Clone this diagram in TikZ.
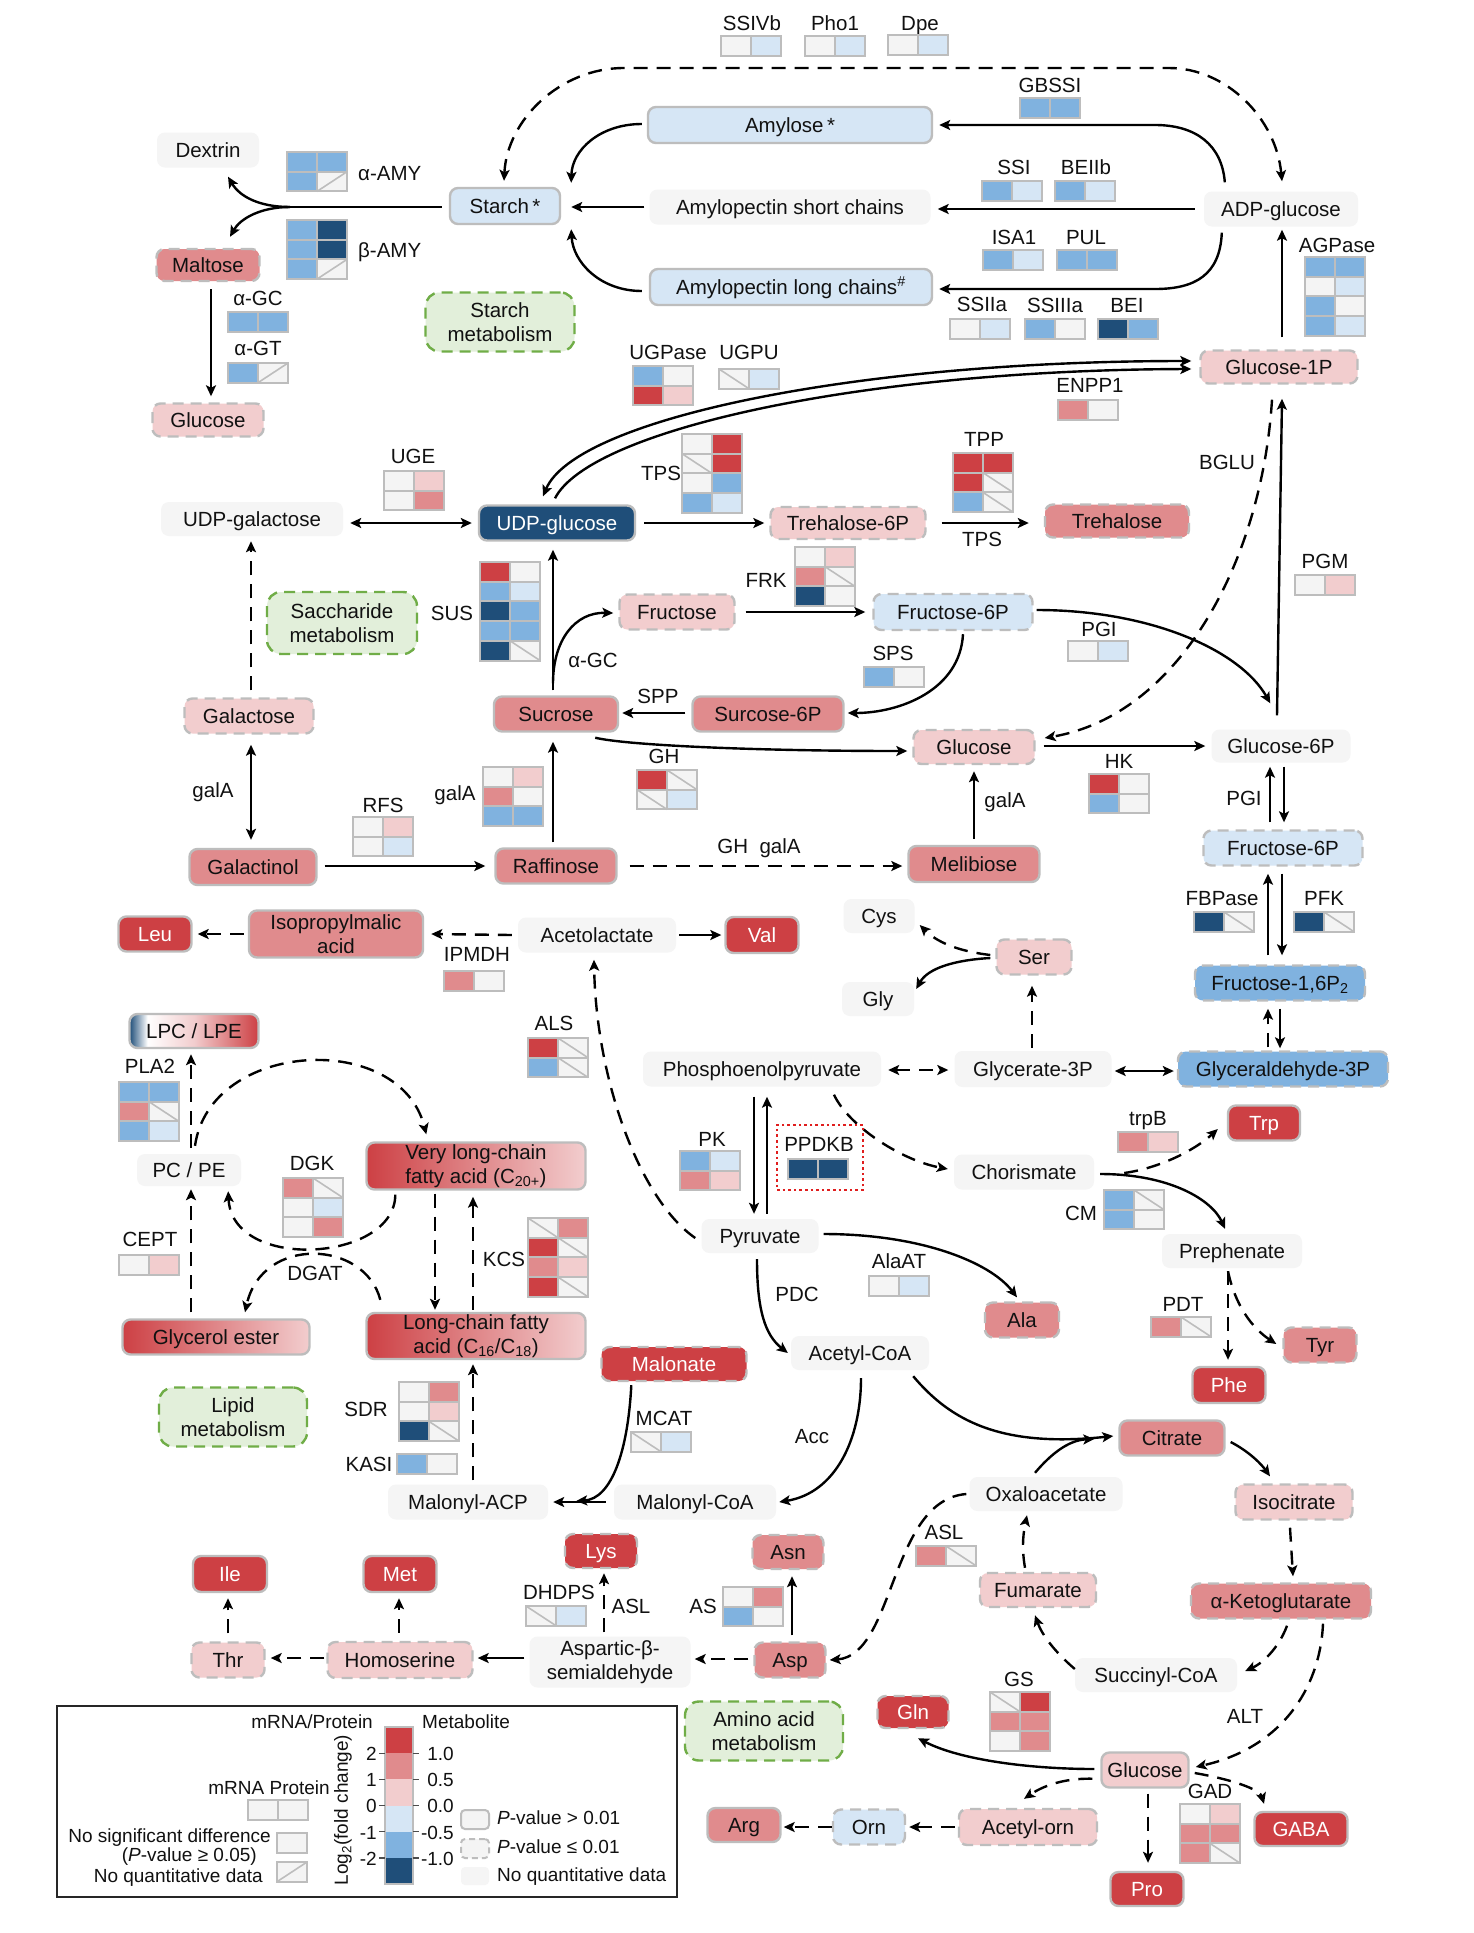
\documentclass[tikz,border=0pt]{standalone}
\usepackage{fontspec}
\setmainfont{Liberation Sans}
\usetikzlibrary{arrows.meta,calc}
\definecolor{cR}{HTML}{CD4044}
\definecolor{cM}{HTML}{E08B8D}
\definecolor{cP}{HTML}{F2CDCE}
\definecolor{cL}{HTML}{D6E6F5}
\definecolor{cB}{HTML}{80B2DF}
\definecolor{cD}{HTML}{1F4E79}
\definecolor{cW}{HTML}{F4F4F4}
\definecolor{cG}{HTML}{BDBDBD}
\definecolor{nodeg}{HTML}{F5F5F5}
\definecolor{grnF}{HTML}{E2EFDA}
\definecolor{grnD}{HTML}{70AD47}
\definecolor{txt}{HTML}{111111}
\definecolor{pdkred}{HTML}{E01E1E}
\pgfdeclarehorizontalshading{lpcsh}{100bp}{color(0bp)=(cD); color(25bp)=(cD); color(32bp)=(white); color(50bp)=(cP); color(75bp)=(cR); color(100bp)=(cR)}
\newcommand\nf{\fontsize{20.5pt}{23.5pt}\selectfont}
\newcommand\lf{\fontsize{19pt}{22pt}\selectfont}
\def\codeN{N}
\def\coden{n}
\newcommand\hcell[3]{%
  \edef\hcode{#3}%
  \pgfmathsetmacro\hyb{#2+19.7}%
  \ifx\hcode\codeN
    \draw[fill=cW, draw=cG, line width=2pt] (#1,#2) rectangle ++(30,19.7);
    \draw[cG, line width=1.6pt] (#1,#2) -- ++(30,19.7);
  \else\ifx\hcode\coden
    \draw[fill=cW, draw=cG, line width=2pt] (#1,#2) rectangle ++(30,19.7);
    \draw[cG, line width=1.6pt] (#1,\hyb) -- ++(30,-19.7);
  \else
    \edef\hcol{c#3}%
    \draw[fill=\hcol, draw=cG, line width=2pt] (#1,#2) rectangle ++(30,19.7);
  \fi\fi}
\newcommand\hm[3]{%
  \foreach \ca/\cb [count=\ri from 0] in {#3}{%
    \pgfmathsetmacro\hyy{#2+\ri*19.7}%
    \pgfmathsetmacro\hxx{#1+30}%
    \hcell{#1}{\hyy}{\ca}%
    \hcell{\hxx}{\hyy}{\cb}%
  }}
\newcommand\M[6]{\node[#1, minimum width=#4pt, minimum height=#5pt] (#2) at (#3) {#6};}
\begin{document}
\begin{tikzpicture}[x=1pt,y=-1pt,
  >={Stealth[length=11pt,width=10pt,inset=2.5pt]},
  every node/.style={font=\nf, text=txt},
  mbase/.style={rounded corners=8pt, inner sep=0pt, align=center, text height=14.7pt, text depth=0pt},
  two/.style={text height={}, text depth={}},
  sb/.style={mbase, draw=cG, line width=2.4pt},
  db/.style={mbase, draw=cG, line width=2.4pt, dash pattern=on 11pt off 7pt},
  pl/.style={mbase, fill=nodeg},
  sL/.style={sb, fill=cL}, sM/.style={sb, fill=cM}, sR/.style={sb, fill=cR, text=white},
  sD/.style={sb, fill=cD, text=white}, sP/.style={sb, fill=cP},
  dP/.style={db, fill=cP}, dM/.style={db, fill=cM}, dR/.style={db, fill=cR, text=white},
  dL/.style={db, fill=cL}, dB/.style={db, fill=cB},
  grad/.style={sb, left color=cR, right color=cP},
  greenb/.style={mbase, two, fill=grnF, draw=grnD, line width=2.4pt, dash pattern=on 11pt off 7pt, rounded corners=14pt},
  lab/.style={inner sep=0pt, text height=14.7pt, text depth=0pt},
  ln/.style={line width=2.4pt},
  ar/.style={ln, ->},
  dar/.style={ln, ->, dash pattern=on 14pt off 9pt},
  barr/.style={ln, <->},
  dbarr/.style={ln, <->, dash pattern=on 14pt off 9pt}]
\useasboundingbox (0,0) rectangle (1473,1933);
\fill[white] (0,0) rectangle (1473,1933);

%% ---------------- metabolite nodes
\M{pl}{dextrin}{208,150}{102}{35}{Dextrin}
\M{sL}{starch}{505,206}{110}{36}{Starch\,*}
\M{sL}{amylose}{790,125}{284}{36}{Amylose\,*}
\M{pl}{shortch}{790,207}{281}{35}{Amylopectin short chains}
\M{sL}{longch}{791,287}{282}{36}{Amylopectin long chains\textsuperscript{\#}}
\M{pl}{adpg}{1281,209}{154}{35}{ADP-glucose}
\M{dM}{maltose}{208,265}{103}{32}{Maltose}
\M{dP}{glcA}{208,420}{111}{33}{Glucose}
\M{dP}{g1p}{1279,367}{157}{33}{Glucose-1P}
\M{pl}{udpgal}{252,519}{182}{34}{UDP-galactose}
\M{sD}{udpglc}{557,523}{156}{35}{UDP-glucose}
\M{dP}{t6p}{848,523}{155}{32}{Trehalose-6P}
\M{dM}{treh}{1117,521}{144}{33}{Trehalose}
\M{dP}{fru}{677,612}{115}{35}{Fructose}
\M{dL}{f6pA}{953,612}{159}{36}{Fructose-6P}
\M{dP}{galac}{249,716}{129}{35}{Galactose}
\M{sM}{sucr}{556,714}{124}{35}{Sucrose}
\M{sM}{s6p}{768,714}{151}{35}{Surcose-6P}
\M{dP}{glcB}{974,747}{121}{34}{Glucose}
\M{pl}{g6p}{1281,746}{139}{33}{Glucose-6P}
\M{dL}{f6pB}{1283,848}{159}{35}{Fructose-6P}
\M{sM}{galol}{253,867}{127}{36}{Galactinol}
\M{sM}{raff}{556,866}{121}{35}{Raffinose}
\M{sM}{meli}{974,864}{131}{36}{Melibiose}
\M{sR}{leu}{155,934}{73}{35}{Leu}
\M{sM,two}{ipm}{336,934}{174}{47}{Isopropylmalic\\acid}
\M{pl}{acl}{597,935}{158}{35}{Acetolactate}
\M{sR}{val}{762,935}{73}{36}{Val}
\M{pl}{cys}{879,916}{71}{34}{Cys}
\M{dP}{ser}{1034,957}{75}{35}{Ser}
\M{pl}{gly}{878,999}{72}{34}{Gly}
\M{dB}{fbp}{1280,983}{170}{35}{Fructose-1,6P\textsubscript{2}}
\M{sb,shading=lpcsh}{lpc}{194,1031}{129}{34}{LPC / LPE}
\M{pl}{pep}{762,1069}{238}{35}{Phosphoenolpyruvate}
\M{pl}{g3p}{1033,1069}{157}{36}{Glycerate-3P}
\M{dB}{gap}{1283,1069}{210}{35}{Glyceraldehyde-3P}
\M{sR}{trp}{1264,1123}{72}{35}{Trp}
\M{pl}{pcpe}{189,1170}{104}{32}{PC / PE}
\M{grad,two}{vlcfa}{476,1166}{219}{47}{Very long-chain\\fatty acid (C\textsubscript{20+})}
\M{pl}{chor}{1024,1172}{140}{35}{Chorismate}
\M{pl}{pyr}{760,1236}{117}{34}{Pyruvate}
\M{pl}{preph}{1232,1251}{140}{34}{Prephenate}
\M{dM}{ala}{1022,1320}{74}{35}{Ala}
\M{grad}{gest}{216,1337}{187}{35}{Glycerol ester}
\M{grad,two}{lcfa}{476,1336}{219}{46}{Long-chain fatty\\acid (C\textsubscript{16}/C\textsubscript{18})}
\M{dM}{tyr}{1320,1345}{73}{35}{Tyr}
\M{pl}{acoa}{860,1353}{138}{34}{Acetyl-CoA}
\M{dR}{malon}{674,1364}{145}{34}{Malonate}
\M{sR}{phe}{1229,1385}{73}{36}{Phe}
\M{sM}{citr}{1172,1438}{105}{35}{Citrate}
\M{pl}{macp}{468,1502}{160}{35}{Malonyl-ACP}
\M{pl}{mcoa}{695,1502}{162}{35}{Malonyl-CoA}
\M{pl}{oaa}{1046,1494}{153}{34}{Oxaloacetate}
\M{dP}{isoc}{1294,1502}{117}{35}{Isocitrate}
\M{dR}{lys}{601,1551}{72}{34}{Lys}
\M{dM}{asn}{788,1552}{71}{34}{Asn}
\M{sR}{ile}{230,1574}{74}{36}{Ile}
\M{sR}{met}{400,1574}{73}{36}{Met}
\M{dP}{fum}{1038,1590}{116}{34}{Fumarate}
\M{dM}{akg}{1281,1601}{180}{35}{α-Ketoglutarate}
\M{dP}{thr}{228,1660}{73}{35}{Thr}
\M{dP}{hser}{400,1660}{145}{36}{Homoserine}
\M{pl,two}{asa}{610,1662}{161}{51}{Aspartic-β-\\semialdehyde}
\M{dM}{asp}{790,1660}{71}{35}{Asp}
\M{pl}{succ}{1156,1675}{162}{34}{Succinyl-CoA}
\M{dR}{gln}{913,1712}{71}{32}{Gln}
\M{sP}{glcC}{1145,1770}{87}{35}{Glucose}
\M{sM}{arg}{744,1825}{73}{34}{Arg}
\M{dL}{orn}{869,1827}{72}{35}{Orn}
\M{dP}{aorn}{1028,1827}{138}{36}{Acetyl-orn}
\M{sR}{gaba}{1301,1829}{93}{34}{GABA}
\M{sR}{pro}{1147,1889}{73}{34}{Pro}

%% green pathway boxes
\M{greenb}{starchm}{500,322}{149}{59}{Starch\\metabolism}
\M{greenb}{sacchm}{342,623}{150}{62}{Saccharide\\metabolism}
\M{greenb}{lipidm}{233,1417}{148}{59}{Lipid\\metabolism}
\M{greenb}{aam}{764,1731}{158}{59}{Amino acid\\metabolism}

%% ---------------- connectors
% starch
\draw[dbarr] ($(starch.north)+(-1,-6)$) .. controls (507,120) and (560,68) .. (624,68) -- (1169,68) .. controls (1226,68) and (1276,118) .. ($(adpg.north)+(1,-10)$);
\draw[ar] ($(adpg.north west)+(21,-9)$) .. controls (1222,145) and (1196,125) .. (1155,125) -- ($(amylose.east)+(6,0)$);
\draw[ar] ($(adpg.west)+(-9,0)$) -- ($(shortch.east)+(7,2)$);
\draw[ar] ($(adpg.south west)+(18,6)$) .. controls (1220,275) and (1195,289) .. (1155,289) -- ($(longch.east)+(6,2)$);
\draw[ar] ($(amylose.west)+(-5,-1)$) .. controls (600,124) and (572,150) .. ($(starch.north east)+(10,-4)$);
\draw[ar] ($(shortch.west)+(-5,0)$) -- ($(starch.east)+(10,1)$);
\draw[ar] ($(longch.west)+(-7,4)$) .. controls (600,291) and (573,262) .. ($(starch.south east)+(10,4)$);
\draw[ar] ($(g1p.north)+(3,-12)$) -- ($(adpg.south)+(1,3)$);
\coordinate (jamy) at (290,207);
\draw[ln] ($(starch.west)+(-7,1)$) -- (jamy);
\draw[ar] (jamy) .. controls (260,207) and (240,197) .. ($(dextrin.south)+(20,9)$);
\draw[ar] (jamy) .. controls (260,207) and (240,219) .. ($(maltose.north)+(22,-11)$);
\draw[ar] ($(maltose.south)+(3,7)$) -- ($(glcA.north)+(3,-6)$);
% saccharides
\draw[barr] ($(udpglc.north)+(-14,-8)$) .. controls (575,420) and (850,361) .. ($(g1p.west)+(-8,-6)$);
\draw[ar] ($(udpglc.north)+(-2,-6)$) .. controls (590,430) and (860,370) .. ($(g1p.west)+(-8,2)$);
\draw[dar] ($(g1p.south)+(-7,15)$) .. controls (1262,560) and (1180,715) .. ($(glcB.east)+(9,-9)$);
\draw[ar] ($(g6p.north)+(-4,-14)$) -- ($(g1p.south)+(3,14)$);
\draw[barr] ($(udpgal.east)+(7,4)$) -- ($(udpglc.west)+(-6,0)$);
\draw[dar] ($(galac.north)+(2,-7)$) -- ($(udpgal.south)+(-1,5)$);
\draw[barr] ($(galac.south)+(2,10)$) -- ($(galol.north)+(-2,-8)$);
\draw[ar] ($(galol.east)+(7,-1)$) -- ($(raff.west)+(-9,0)$);
\draw[ar] ($(udpglc.east)+(8,0)$) -- ($(t6p.west)+(-5,0)$);
\draw[ar] ($(t6p.east)+(15,0)$) -- ($(treh.west)+(-15,2)$);
\draw[ar] ($(sucr.north)+(-3,-5)$) -- ($(udpglc.south)+(-4,8)$);
\draw[ar] ($(sucr.north)+(-3,-12)$) .. controls (553,640) and (575,612) .. ($(fru.west)+(-5,1)$);
\draw[ar] ($(fru.east)+(10,0)$) -- ($(f6pA.west)+(-7,0)$);
\draw[ar] ($(f6pA.south)+(10,3)$) .. controls (960,690) and (900,713) .. ($(s6p.east)+(3,-1)$);
\draw[ar] ($(s6p.west)+(-6,-1)$) -- ($(sucr.east)+(3,-1)$);
\draw[ar] ($(sucr.south east)+(-24,5)$) .. controls (625,745) and (750,751) .. ($(glcB.west)+(-5,4)$);
\draw[ar] ($(raff.north)+(-3,-5)$) -- ($(sucr.south)+(-3,9)$);
\draw[dar] ($(raff.east)+(12,0)$) -- ($(meli.west)+(-5,2)$);
\draw[ar] ($(meli.north)+(0,-6)$) -- ($(glcB.south)+(0,6)$);
\draw[ar] ($(f6pA.east)+(3,-2)$) .. controls (1150,610) and (1240,650) .. ($(g6p.north west)+(59,-26)$);
\draw[ar] ($(glcB.east)+(8,-1)$) -- ($(g6p.west)+(-6,0)$);
% glycolysis
\draw[ar] ($(f6pB.north)+(-13,-7)$) -- ($(g6p.south)+(-11,4)$);
\draw[ar] ($(g6p.south)+(3,4)$) -- ($(f6pB.north)+(1,-7)$);
\draw[ar] ($(fbp.north)+(-12,-9)$) -- ($(f6pB.south)+(-15,7)$);
\draw[ar] ($(f6pB.south)+(-1,7)$) -- ($(fbp.north)+(2,-9)$);
\draw[dar] ($(gap.north)+(-15,-3)$) -- ($(fbp.south)+(-12,7)$);
\draw[ar] ($(fbp.south)+(0,7)$) -- ($(gap.north)+(-3,-2)$);
\draw[barr] ($(g3p.east)+(3,2)$) -- ($(gap.west)+(-3,2)$);
\draw[dar] ($(g3p.north)+(-1,-3)$) -- ($(ser.south)+(-2,10)$);
\draw[dar] ($(ser.west)+(-5,-2)$) .. controls (965,952) and (940,945) .. ($(cys.east)+(5,9)$);
\draw[ar] ($(ser.west)+(-5,1)$) .. controls (955,960) and (928,968) .. ($(gly.east)+(2,-10)$);
\draw[dbarr] ($(pep.east)+(7,1)$) -- ($(g3p.west)+(-6,1)$);
\draw[ar] ($(pep.south)+(-8,10)$) -- ($(pyr.north)+(-6,-5)$);
\draw[ar] ($(pyr.north)+(7,-5)$) -- ($(pep.south)+(5,10)$);
\draw[dar] ($(pep.south)+(72,8)$) .. controls (848,1125) and (900,1160) .. ($(chor.west)+(-6,-3)$);
\draw[dar] ($(pyr.west)+(-6,2)$) .. controls (640,1200) and (596,1080) .. ($(acl.south)+(-3,7)$);
\draw[dar] ($(acl.west)+(-6,0)$) -- ($(ipm.east)+(7,0)$);
\draw[dar] ($(ipm.west)+(-4,0)$) -- ($(leu.east)+(5,0)$);
\draw[ar] ($(acl.east)+(3,0)$) -- ($(val.west)+(-3,0)$);
\draw[dar] ($(chor.east)+(30,1)$) .. controls (1160,1168) and (1195,1150) .. ($(trp.west)+(-9,6)$);
\draw[ar] ($(chor.east)+(6,2)$) .. controls (1170,1174) and (1212,1200) .. ($(preph.north)+(-7,-5)$);
\draw[dar] ($(preph.south)+(-4,3)$) -- ($(phe.north)+(-1,-6)$);
\draw[dar] ($(preph.south)+(-4,3)$) .. controls (1235,1305) and (1252,1328) .. ($(tyr.west)+(-6,-1)$);
\draw[ar] ($(pyr.east)+(5,-2)$) .. controls (920,1234) and (990,1262) .. ($(ala.north)+(-5,-4)$);
\draw[ar] ($(pyr.south)+(-3,6)$) .. controls (757,1310) and (765,1335) .. ($(acoa.west)+(-3,0)$);
\draw[ar] ($(acoa.south)+(1,8)$) .. controls (861,1440) and (835,1493) .. ($(mcoa.east)+(3,0)$);
\draw[ar] ($(acoa.south east)+(-16,6)$) .. controls (950,1420) and (1000,1448) .. ($(citr.west)+(-5,-2)$);
% TCA
\draw[ar] ($(oaa.north)+(-11,-4)$) .. controls (1050,1455) and (1068,1440) .. ($(citr.west)+(-24,1)$);
\draw[ar] ($(citr.east)+(5,4)$) .. controls (1250,1452) and (1262,1465) .. ($(isoc.north)+(-24,-7)$);
\draw[dar] ($(isoc.south)+(-4,7)$) -- ($(akg.north)+(12,-6)$);
\draw[dar] ($(akg.south)+(6,6)$) .. controls (1280,1645) and (1265,1662) .. ($(succ.east)+(8,-4)$);
\draw[dar] ($(succ.west)+(0,-6)$) .. controls (1055,1652) and (1042,1635) .. ($(fum.south)+(-3,7)$);
\draw[dar] ($(fum.north)+(-13,-4)$) .. controls (1021,1545) and (1024,1530) .. ($(oaa.south)+(-19,4)$);
\draw[dar] ($(akg.south)+(42,4)$) .. controls (1320,1690) and (1280,1748) .. ($(glcC.east)+(6,-3)$);
\draw[ar] ($(glcC.west)+(-6,-1)$) .. controls (1030,1769) and (960,1760) .. ($(gln.south)+(5,9)$);
\draw[dar] ($(glcC.south west)+(-8,-10)$) .. controls (1060,1778) and (1040,1788) .. ($(aorn.north)+(-4,-9)$);
\draw[dar] ($(glcC.south)+(3,5)$) -- ($(pro.north)+(1,-8)$);
\draw[dar] ($(glcC.east)+(5,3)$) .. controls (1235,1780) and (1260,1790) .. ($(gaba.north)+(-37,-7)$);
\draw[dar] ($(aorn.west)+(-3,0)$) -- ($(orn.east)+(3,0)$);
\draw[dar] ($(orn.west)+(0,0)$) -- ($(arg.east)+(2,2)$);
% amino acids
\draw[dar] ($(oaa.west)+(-3,0)$) .. controls (890,1500) and (895,1655) .. ($(asp.east)+(3,0)$);
\draw[ar] ($(asp.north)+(2,-6)$) -- ($(asn.south)+(4,6)$);
\draw[dar] ($(asp.west)+(-5,-1)$) -- ($(asa.east)+(4,-3)$);
\draw[dar] ($(asa.north)+(-6,-4)$) -- ($(lys.south)+(3,4)$);
\draw[ar] ($(asa.west)+(-5,-4)$) -- ($(hser.east)+(4,-2)$);
\draw[dar] ($(hser.west)+(-2,-2)$) -- ($(thr.east)+(5,-2)$);
\draw[dar] ($(thr.north)+(0,-8)$) -- ($(ile.south)+(-2,5)$);
\draw[dar] ($(hser.north)+(-1,-8)$) -- ($(met.south)+(-1,5)$);
% lipids
\draw[ar] ($(mcoa.west)+(-8,0)$) -- ($(macp.east)+(5,0)$);
\draw[ar] ($(malon.south west)+(31,3)$) .. controls (628,1450) and (612,1499) .. ($(macp.east)+(28,-1)$);
\draw[dar] ($(macp.north)+(5,-4)$) -- ($(lcfa.south)+(-3,4)$);
\draw[dar] ($(vlcfa.south)+(-41,3)$) -- ($(lcfa.north)+(-41,-2)$);
\draw[dar] ($(lcfa.north)+(-3,-2)$) -- ($(vlcfa.south)+(-3,6)$);
\draw[dar] ($(pcpe.north)+(2,-6)$) -- ($(lpc.south)+(-3,5)$);
\draw[dar] ($(gest.north)+(-25,-6)$) -- ($(pcpe.south)+(2,3)$);
\draw[dar] ($(pcpe.north)+(6,-8)$) .. controls (210,1040) and (400,1030) .. ($(vlcfa.north west)+(61,-7)$);
\draw[dar] ($(vlcfa.south west)+(30,4)$) .. controls (395,1262) and (232,1272) .. ($(pcpe.south east)+(-13,5)$);
\draw[dar] ($(lcfa.north west)+(15,-12)$) .. controls (365,1240) and (262,1235) .. ($(gest.north)+(29,-6)$);

%% ---------------- gene labels
\node[lab] (lSSIVb) at (752,23) {SSIVb};
\node[lab] (lPho) at (835,23) {Pho1};
\node[lab] (lDpe) at (920,23) {Dpe};
\node[lab] (lGBSSI) at (1050,85) {GBSSI};
\node[lab, anchor=west] (laAMY) at (358,173) {α-AMY};
\node[lab, anchor=west] (lbAMY) at (358,250) {β-AMY};
\node[lab] (lSSI) at (1014,167) {SSI};
\node[lab] (lBEIIb) at (1086,167) {BEIIb};
\node[lab] (lISA) at (1014,237) {ISA1};
\node[lab] (lPUL) at (1086,237) {PUL};
\node[lab] (lSSIIa) at (982,304) {SSIIa};
\node[lab] (lSSIIIa) at (1055,305) {SSIIIa};
\node[lab] (lBEI) at (1127,305) {BEI};
\node[lab] (lAGP) at (1337,245) {AGPase};
\node[lab] (laGC) at (258,298) {α-GC};
\node[lab] (laGT) at (258,348) {α-GT};
\node[lab] (lUGPase) at (668,352) {UGPase};
\node[lab] (lUGPU) at (749,352) {UGPU};
\node[lab] (lENPP) at (1090,385) {ENPP1};
\node[lab] (lUGE) at (413,456) {UGE};
\node[lab] (lTPS) at (661,473) {TPS};
\node[lab] (lTPP) at (984,439) {TPP};
\node[lab] (lBGLU) at (1227,462) {BGLU};
\node[lab] (lTPSb) at (982,539) {TPS};
\node[lab] (lSUS) at (452,613) {SUS};
\node[lab] (lFRK) at (766,580) {FRK};
\node[lab] (laGCb) at (593,660) {α-GC};
\node[lab] (lSPS) at (893,653) {SPS};
\node[lab] (lSPP) at (658,696) {SPP};
\node[lab] (lPGM) at (1325,561) {PGM};
\node[lab] (lPGI) at (1099,629) {PGI};
\node[lab] (lGH) at (664,756) {GH};
\node[lab] (lHK) at (1119,761) {HK};
\node[lab] (lgalA) at (213,790) {galA};
\node[lab] (lgalAb) at (455,793) {galA};
\node[lab] (lgalAc) at (1005,800) {galA};
\node[lab] (lRFS) at (383,805) {RFS};
\node[lab] (lPGIb) at (1244,798) {PGI};
\node[lab] (lGHgalA) at (759,846) {GH\ \ galA};
\node[lab] (lFBP) at (1222,898) {FBPase};
\node[lab] (lPFK) at (1324,898) {PFK};
\node[lab] (lIPMDH) at (477,954) {IPMDH};
\node[lab] (lALS) at (554,1023) {ALS};
\node[lab] (lPLA) at (150,1066) {PLA2};
\node[lab] (ltrpB) at (1148,1118) {trpB};
\node[lab] (lPK) at (712,1139) {PK};
\node[draw=pdkred, line width=2.4pt, dash pattern=on 2.6pt off 3pt, minimum width=86pt, minimum height=65pt, inner sep=0pt] (ppdkbox) at (820,1157.5) {};
\node[lab] (lPPDKB) at (819,1144) {PPDKB};
\node[lab] (lDGK) at (312,1163) {DGK};
\node[lab] (lCM) at (1081,1213) {CM};
\node[lab] (lCEPT) at (150,1239) {CEPT};
\node[lab] (lKCS) at (504,1259) {KCS};
\node[lab] (lAlaAT) at (899,1261) {AlaAT};
\node[lab] (lDGAT) at (315,1273) {DGAT};
\node[lab] (lPDC) at (797,1294) {PDC};
\node[lab] (lPDT) at (1183,1304) {PDT};
\node[lab] (lSDR) at (366,1409) {SDR};
\node[lab] (lMCAT) at (664,1418) {MCAT};
\node[lab] (lAcc) at (812,1436) {Acc};
\node[lab] (lKASI) at (369,1464) {KASI};
\node[lab] (lASLb) at (944,1532) {ASL};
\node[lab] (lDHDPS) at (559,1592) {DHDPS};
\node[lab] (lASL) at (631,1606) {ASL};
\node[lab] (lAS) at (703,1606) {AS};
\node[lab] (lGS) at (1019,1679) {GS};
\node[lab] (lALT) at (1245,1716) {ALT};
\node[lab] (lGAD) at (1210,1791) {GAD};

%% ---------------- heatmaps
\hm{721}{36}{W/L}
\hm{805}{36}{W/L}
\hm{888}{35}{W/L}
\hm{1020}{98}{B/B}
\hm{287}{152}{B/B,B/n}
\hm{287}{220}{B/D,B/D,B/n}
\hm{982}{181}{B/L}
\hm{1055}{181}{B/L}
\hm{983}{250}{B/L}
\hm{1057}{250}{B/B}
\hm{950}{319}{W/L}
\hm{1025}{319}{B/W}
\hm{1098}{319}{D/B}
\hm{1305}{257}{B/B,W/L,B/W,B/L}
\hm{228}{312}{B/B}
\hm{228}{363}{B/n}
\hm{633}{366}{B/W,R/P}
\hm{719}{369}{N/L}
\hm{1058}{400}{M/W}
\hm{384}{471}{W/P,W/M}
\hm{682}{434}{W/R,N/R,W/B,B/L}
\hm{953}{453}{R/R,R/N,B/N}
\hm{480}{562}{R/W,B/L,D/B,B/B,D/N}
\hm{795}{547}{W/P,M/N,D/W}
\hm{864}{667}{B/W}
\hm{1295}{575}{W/P}
\hm{1068}{641}{W/L}
\hm{637}{770}{R/N,N/L}
\hm{1089}{774}{R/W,B/W}
\hm{483}{767}{W/P,M/W,B/B}
\hm{353}{817}{W/P,W/L}
\hm{1194}{912}{D/N}
\hm{1294}{912}{D/N}
\hm{444}{971}{M/W}
\hm{528}{1038}{R/N,B/N}
\hm{119}{1082}{B/B,M/N,B/L}
\hm{1118}{1132}{M/P}
\hm{680}{1151}{B/L,M/P}
\hm{788}{1159}{D/D}
\hm{283}{1178}{M/N,W/L,W/M}
\hm{1104}{1190}{B/N,B/W}
\hm{119}{1255}{W/P}
\hm{528}{1218}{N/M,R/N,M/P,R/N}
\hm{869}{1276}{W/L}
\hm{1151}{1317}{M/N}
\hm{399}{1382}{W/M,W/P,D/N}
\hm{631}{1432}{N/L}
\hm{397}{1454}{B/W}
\hm{916}{1546}{M/N}
\hm{526}{1606}{N/L}
\hm{723}{1587}{W/M,B/W}
\hm{990}{1692}{N/R,M/M,W/M}
\hm{1180}{1804}{W/P,M/M,M/N}

%% ---------------- legend
\node[draw=black!85, line width=1.6pt, minimum width=620pt, minimum height=191pt, inner sep=0pt] (legend) at (367,1801.5) {};
\node[lab, font=\lf, anchor=east] (lgA) at (373,1721) {mRNA/Protein};
\node[lab, font=\lf, anchor=west] (lgB) at (422,1721) {Metabolite};
\foreach \c [count=\i from 0] in {R,M,P,L,B,D}{
  \edef\tc{c\c}
  \pgfmathsetmacro\yy{1727+\i*26.2}
  \fill[fill=\tc] (385,\yy) rectangle ++(28,26.2);
}
\draw[cG, line width=2.4pt] (385,1727) rectangle (413,1884.2);
\foreach \l/\r [count=\i from 0] in {2/1.0,1/0.5,0/0.0,-1/-0.5,-2/-1.0}{
  \pgfmathsetmacro\yy{1753.2+\i*26.2}
  \draw[black!70, line width=1.2pt] (379,\yy) -- (385,\yy) (413,\yy) -- (419,\yy);
  \node[lab, font=\lf, anchor=east] (tl\i) at (377,\yy) {\l};
  \node[lab, font=\lf, anchor=east] (tr\i) at (454,\yy) {\r};
}
\node[font=\lf, rotate=90, inner sep=0pt] (lglog) at (343,1810) {Log\textsubscript{2}(fold change)};
\node[lab, font=\lf, anchor=east] (lgC) at (330,1787) {mRNA Protein};
\hm{248}{1800}{W/W}
\node[lab, font=\lf, anchor=east] (lgD) at (271,1835) {No significant difference};
\node[lab, font=\lf, anchor=east] (lgE) at (257,1854) {(\textit{P}-value ≥ 0.05)};
\node[lab, font=\lf, anchor=east] (lgF) at (263,1875) {No quantitative data};
\draw[fill=cW, draw=cG, line width=2pt] (277,1833) rectangle ++(30,20);
\hcell{277}{1862}{n}
\node[draw=cG, fill=cW, line width=2pt, rounded corners=4pt, minimum width=28pt, minimum height=19pt, inner sep=0pt] (lgs1) at (475,1819.5) {};
\node[draw=cG, fill=cW, line width=2pt, dash pattern=on 6pt off 4pt, rounded corners=4pt, minimum width=28pt, minimum height=19pt, inner sep=0pt] (lgs2) at (475,1848.5) {};
\node[fill=nodeg, rounded corners=4pt, minimum width=28pt, minimum height=18pt, inner sep=0pt] (lgs3) at (475,1876) {};
\node[lab, font=\lf, anchor=west] (lgG) at (497,1817) {\textit{P}-value > 0.01};
\node[lab, font=\lf, anchor=west] (lgH) at (497,1846) {\textit{P}-value ≤ 0.01};
\node[lab, font=\lf, anchor=west] (lgI) at (497,1874) {No quantitative data};
\end{tikzpicture}
\end{document}
